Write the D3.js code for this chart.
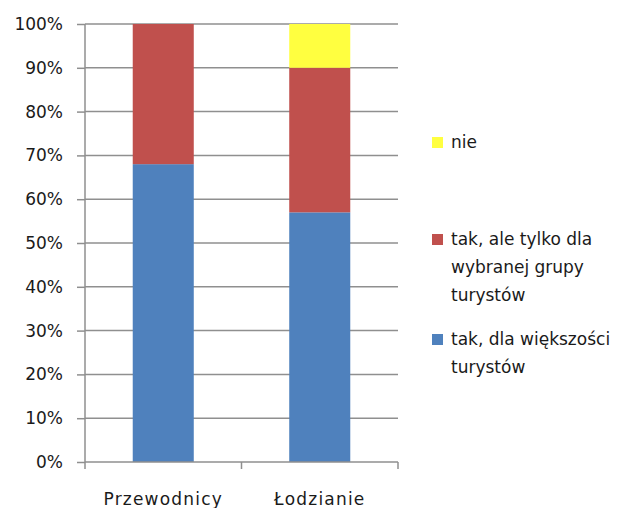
<!DOCTYPE html>
<html>
<head>
<meta charset="utf-8">
<script src="https://cdn.jsdelivr.net/npm/d3@7"></script>
<style>
  html, body { margin: 0; padding: 0; background: #fff; }
  svg { display: block; }
  text { font-family: "DejaVu Sans", Verdana, sans-serif; fill: #1a1a1a; }
</style>
</head>
<body>
<svg id="chart" width="623" height="508"></svg>
<script>
// Stacked 100% bar chart data
const categories = ["Przewodnicy", "Łodzianie"];
const seriesNames = ["tak, dla większości turystów", "tak, ale tylko dla wybranej grupy turystów", "nie"];
const takWiekszosc = [0.68, 0.57];
const takWybrana = [0.32, 0.33];
const nie = [0.00, 0.10];
const tickValues = [0, 0.1, 0.2, 0.3, 0.4, 0.5, 0.6, 0.7, 0.8, 0.9, 1.0];

const colors = ["#4f81bd", "#c0504d", "#ffff40"];
const legendLines = [
  ["nie"],
  ["tak, ale tylko dla", "wybranej grupy", "turystów"],
  ["tak, dla większości", "turystów"]
];

const svg = d3.select("#chart");
const plotLeft = 85, plotRight = 398, plotTop = 24, plotBottom = 462;

const x = d3.scaleBand().domain(categories).range([plotLeft, plotRight]).padding(0);
const y = d3.scaleLinear().domain([0, 1]).range([plotBottom, plotTop]);

// Gridlines
svg.append("g")
  .selectAll("line")
  .data(tickValues.slice(1))
  .join("line")
  .attr("x1", plotLeft).attr("x2", plotRight)
  .attr("y1", d => y(d)).attr("y2", d => y(d))
  .attr("stroke", "#8f8f8f").attr("stroke-width", 1.5);

// Stacked series
const rows = categories.map((c, i) => ({ cat: c, s0: takWiekszosc[i], s1: takWybrana[i], s2: nie[i] }));
const stacked = d3.stack().keys(["s0", "s1", "s2"])(rows);

const barW = x.bandwidth() * 0.39;
svg.append("g")
  .selectAll("g")
  .data(stacked)
  .join("g")
  .attr("fill", (d, i) => colors[i])
  .selectAll("rect")
  .data(d => d)
  .join("rect")
  .attr("x", d => x(d.data.cat) + (x.bandwidth() - barW) / 2)
  .attr("width", barW)
  .attr("y", d => y(d[1]))
  .attr("height", d => Math.max(0, y(d[0]) - y(d[1])));

// Y axis
const yAxis = d3.axisLeft(y)
  .tickValues(tickValues)
  .tickFormat(d3.format(".0%"))
  .tickSize(8)
  .tickPadding(14);
const gy = svg.append("g").attr("transform", `translate(${plotLeft},0)`).call(yAxis);
gy.select(".domain").attr("stroke", "#8f8f8f").attr("stroke-width", 1.5).attr("d", `M0,${plotTop}V${plotBottom}`);
gy.selectAll(".tick line").attr("stroke", "#8f8f8f").attr("stroke-width", 1.5);
gy.selectAll(".tick text")
  .style("font-family", '"DejaVu Sans", Verdana, sans-serif')
  .style("font-size", "17px").attr("fill", "#1a1a1a");

// X axis
const gx = svg.append("g").attr("transform", `translate(0,${plotBottom})`);
gx.append("line").attr("x1", plotLeft).attr("x2", plotRight)
  .attr("stroke", "#8f8f8f").attr("stroke-width", 1.5);
const boundaries = [plotLeft, ...categories.map(c => x(c) + x.bandwidth())];
gx.selectAll("line.tk").data(boundaries).join("line").attr("class", "tk")
  .attr("x1", d => d).attr("x2", d => d).attr("y1", 0).attr("y2", 7)
  .attr("stroke", "#8f8f8f").attr("stroke-width", 1.5);
gx.selectAll("text").data(categories).join("text")
  .attr("x", d => x(d) + x.bandwidth() / 2)
  .attr("y", 43)
  .attr("text-anchor", "middle")
  .style("font-size", "17px")
  .style("letter-spacing", "1.2px")
  .text(d => d);

// Legend
const legendItems = [
  { color: colors[2], lines: legendLines[0], y: 142 },
  { color: colors[1], lines: legendLines[1], y: 239 },
  { color: colors[0], lines: legendLines[2], y: 339 }
];
const lg = svg.append("g");
legendItems.forEach(item => {
  lg.append("rect")
    .attr("x", 432).attr("y", item.y - 5).attr("width", 11).attr("height", 11)
    .attr("fill", item.color);
  const t = lg.append("text").attr("x", 451).attr("y", item.y + 6).style("font-size", "17px");
  item.lines.forEach((ln, i) => {
    t.append("tspan").attr("x", 451).attr("dy", i === 0 ? 0 : 28).text(ln);
  });
});
</script>
</body>
</html>
